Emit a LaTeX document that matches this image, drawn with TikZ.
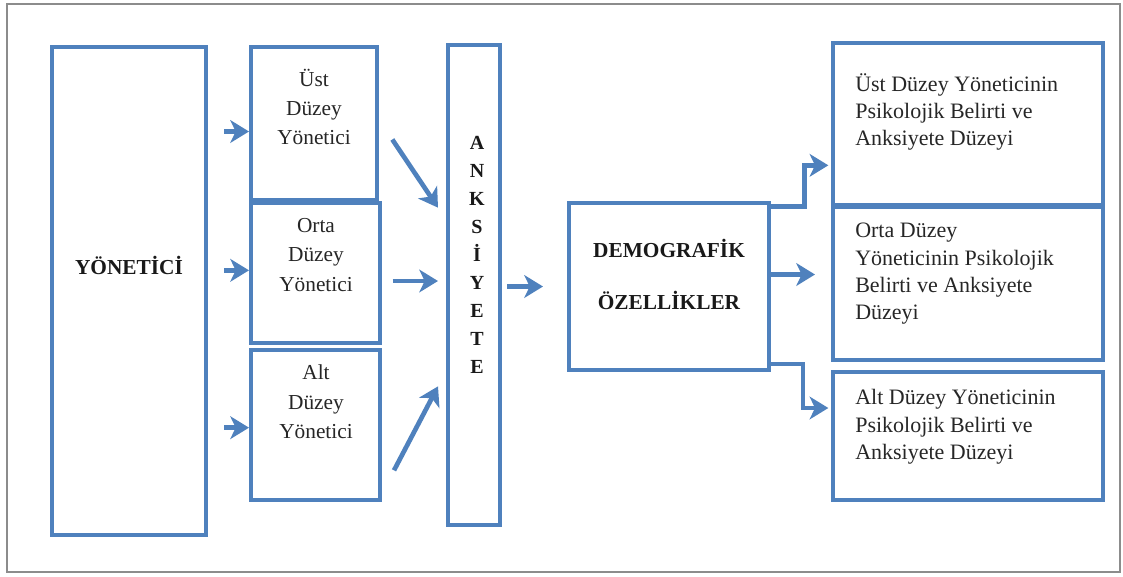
\documentclass[tikz,border=0pt]{standalone}
\usepackage{fontspec}
\setmainfont{Liberation Serif}
\usepackage{tikz}
\usetikzlibrary{arrows.meta}
\definecolor{kblue}{HTML}{4F81BD}
\tikzstyle{kutu}=[draw=kblue, line width=3pt, rectangle, inner sep=0pt]
\tikzstyle{yazi}=[inner sep=0pt, text=black!85, font=\fontsize{16}{22}\selectfont, align=center]
\tikzstyle{uzun}=[inner sep=0pt, text=black!85, font=\fontsize{16.5}{20.5}\selectfont, align=left, anchor=west]
\tikzstyle{kalin}=[inner sep=0pt, text=black!90, font=\bfseries\fontsize{16}{21}\selectfont, align=center]
\tikzstyle{ok}=[draw=kblue, line width=3.5pt, -{Stealth[length=14pt, width=17pt, inset=4pt]}]
\newcommand{\kutu}{\node[kutu]}

\begin{document}
\begin{tikzpicture}[x=0.75pt, y=-0.75pt]
                    \useasboundingbox (0,0) rectangle (1123,576);
                    \draw[black!45, line width=1.5pt] (7,4) rectangle (1120,572);
                    % kutular
                    \kutu (yon) at (129,291) [minimum width=115.5pt, minimum height=366pt]{};
                    \kutu (ust) at (314,123.5) [minimum width=94.5pt, minimum height=114.75pt]{};
                    \kutu (orta) at (315.5,273) [minimum width=96.75pt, minimum height=105pt]{};
                    \kutu (alt) at (315.5,425) [minimum width=96.75pt, minimum height=112.5pt]{};
                    \kutu (ank) at (474,285) [minimum width=39pt, minimum height=360pt]{};
                    \kutu (demo) at (669,286.5) [minimum width=150pt, minimum height=125.25pt]{};
                    \kutu (r1) at (968,124) [minimum width=202.5pt, minimum height=121.5pt]{};
                    \kutu (r2) at (968,283.5) [minimum width=202.5pt, minimum height=114.75pt]{};
                    \kutu (r3) at (968,436) [minimum width=202.5pt, minimum height=96pt]{};
                    % yazilar
                    \node[kalin] (tyon) at (129,265) {YÖNETİCİ};
                    \node[yazi] (tust) at (314,107) {Üst\\Düzey\\Yönetici};
                    \node[yazi] (torta) at (316,255) {Orta\\Düzey\\Yönetici};
                    \node[yazi] (talt) at (316,402) {Alt\\Düzey\\Yönetici};
                    \node[kalin, font=\bfseries\fontsize{15}{21}\selectfont] (tank) at (477,255) {A\\N\\K\\S\\İ\\Y\\E\\T\\E};
                    \node[kalin, font=\bfseries\fontsize{16}{39}\selectfont] (tdemo) at (669,274) {DEMOGRAFİK\\ÖZELLİKLER};
                    \node[uzun] (tr1) at (855,112) {Üst Düzey Yöneticinin\\Psikolojik Belirti ve\\Anksiyete Düzeyi};
                    \node[uzun] (tr2) at (855,274) {Orta Düzey\\Yöneticinin Psikolojik\\Belirti ve Anksiyete\\Düzeyi};
                    \node[uzun] (tr3) at (855,427) {Alt Düzey Yöneticinin\\Psikolojik Belirti ve\\Anksiyete Düzeyi};
                    % oklar
                    \draw[ok, shorten <=12pt] ([yshift=-6pt]yon.east |- ust.west) -- ([yshift=-6pt]ust.west);
                    \draw[ok, shorten <=12pt] ([yshift=2pt]yon.east |- orta.west) -- ([yshift=2pt]orta.west);
                    \draw[ok, shorten <=12pt] ([yshift=-2pt]yon.east |- alt.west) -- ([yshift=-2pt]alt.west);
                    \draw[ok] ([xshift=10pt, yshift=-12pt]ust.east) -- ([xshift=-6pt, yshift=58pt]ank.west);
                    \draw[ok, shorten <=8pt, shorten >=6pt] ([yshift=-6pt]orta.east) -- ([yshift=-6pt]orta.east -| ank.west);
                    \draw[ok] ([xshift=9pt, yshift=-34pt]alt.east) -- ([xshift=-6pt, yshift=-76pt]ank.west);
                    \draw[ok, shorten <=4pt, shorten >=18pt] (ank.east |- demo.west) -- (demo.west);
                    \draw[ok] ([yshift=-4pt]demo.north east) -- ++(25pt,0) |- ([xshift=-2pt, yshift=-31pt]r1.west);
                    \draw[ok, shorten >=12pt] ([yshift=9pt]demo.east) -- ([yshift=9pt]demo.east -| r2.west);
                    \draw[ok] ([yshift=6pt]demo.south east) -- ++(24pt,0) |- ([xshift=-2pt, yshift=21pt]r3.west);
                \end{tikzpicture}
\end{document}
